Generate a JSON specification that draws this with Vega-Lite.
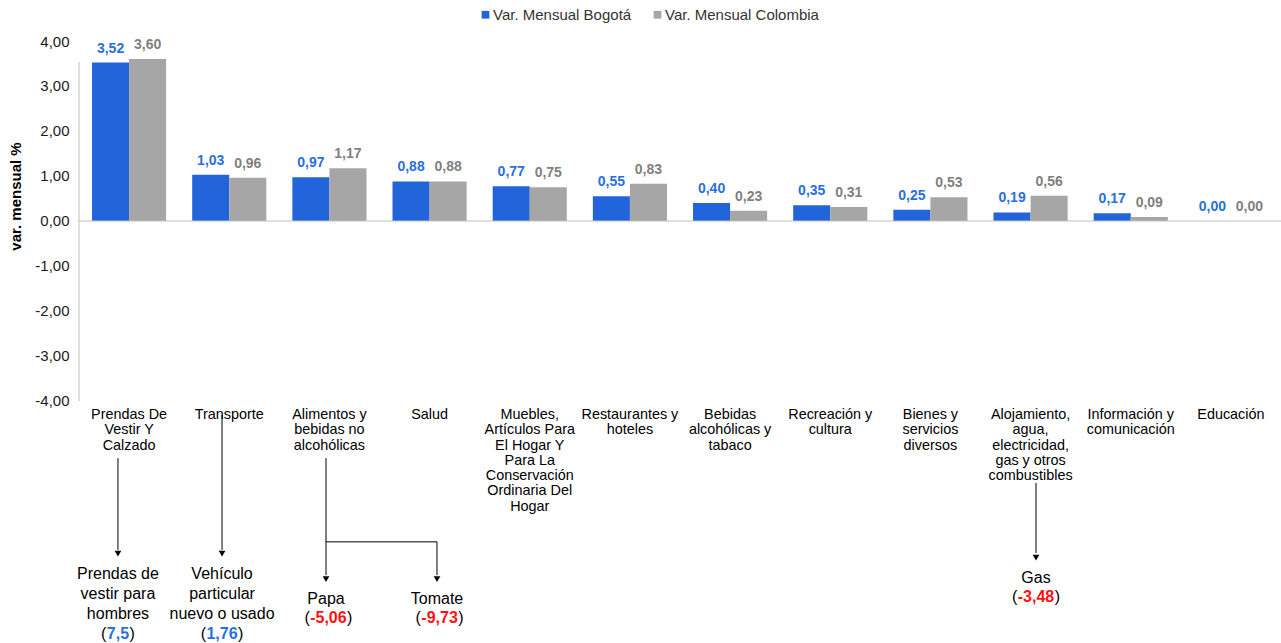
{
 "$schema": "https://vega.github.io/schema/vega-lite/v6.json",
 "width": 1202,
 "height": 602,
 "autosize": {"type": "none"},
 "padding": {"left": 79, "top": 41, "right": 0, "bottom": 0},
 "background": "white",
 "config": {
  "view": {"stroke": null},
  "font": "Liberation Sans",
  "locale": {"number": {"decimal": ",", "thousands": ".", "grouping": [3], "currency": ["$", ""], "minus": "-"}},
  "axisX": {"disable": true}
 },
 "datasets": {
  "bars": [
   {"cat": "Prendas De\nVestir Y\nCalzado", "serie": "Var. Mensual Bogotá", "valor": 3.52},
   {"cat": "Prendas De\nVestir Y\nCalzado", "serie": "Var. Mensual Colombia", "valor": 3.60},
   {"cat": "Transporte", "serie": "Var. Mensual Bogotá", "valor": 1.03},
   {"cat": "Transporte", "serie": "Var. Mensual Colombia", "valor": 0.96},
   {"cat": "Alimentos y\nbebidas no\nalcohólicas", "serie": "Var. Mensual Bogotá", "valor": 0.97},
   {"cat": "Alimentos y\nbebidas no\nalcohólicas", "serie": "Var. Mensual Colombia", "valor": 1.17},
   {"cat": "Salud", "serie": "Var. Mensual Bogotá", "valor": 0.88},
   {"cat": "Salud", "serie": "Var. Mensual Colombia", "valor": 0.88},
   {"cat": "Muebles,\nArtículos Para\nEl Hogar Y\nPara La\nConservación\nOrdinaria Del\nHogar", "serie": "Var. Mensual Bogotá", "valor": 0.77},
   {"cat": "Muebles,\nArtículos Para\nEl Hogar Y\nPara La\nConservación\nOrdinaria Del\nHogar", "serie": "Var. Mensual Colombia", "valor": 0.75},
   {"cat": "Restaurantes y\nhoteles", "serie": "Var. Mensual Bogotá", "valor": 0.55},
   {"cat": "Restaurantes y\nhoteles", "serie": "Var. Mensual Colombia", "valor": 0.83},
   {"cat": "Bebidas\nalcohólicas y\ntabaco", "serie": "Var. Mensual Bogotá", "valor": 0.40},
   {"cat": "Bebidas\nalcohólicas y\ntabaco", "serie": "Var. Mensual Colombia", "valor": 0.23},
   {"cat": "Recreación y\ncultura", "serie": "Var. Mensual Bogotá", "valor": 0.35},
   {"cat": "Recreación y\ncultura", "serie": "Var. Mensual Colombia", "valor": 0.31},
   {"cat": "Bienes y\nservicios\ndiversos", "serie": "Var. Mensual Bogotá", "valor": 0.25},
   {"cat": "Bienes y\nservicios\ndiversos", "serie": "Var. Mensual Colombia", "valor": 0.53},
   {"cat": "Alojamiento,\nagua,\nelectricidad,\ngas y otros\ncombustibles", "serie": "Var. Mensual Bogotá", "valor": 0.19},
   {"cat": "Alojamiento,\nagua,\nelectricidad,\ngas y otros\ncombustibles", "serie": "Var. Mensual Colombia", "valor": 0.56},
   {"cat": "Información y\ncomunicación", "serie": "Var. Mensual Bogotá", "valor": 0.17},
   {"cat": "Información y\ncomunicación", "serie": "Var. Mensual Colombia", "valor": 0.09},
   {"cat": "Educación", "serie": "Var. Mensual Bogotá", "valor": 0.00},
   {"cat": "Educación", "serie": "Var. Mensual Colombia", "valor": 0.00}
  ]
 },
 "layer": [
  {
   "data": {"name": "bars"},
   "layer": [
    {
     "mark": {"type": "bar"},
     "encoding": {
      "x": {"field": "cat", "type": "nominal", "sort": null, "axis": null, "scale": {"paddingInner": 0.26, "paddingOuter": 0.13}},
      "xOffset": {"field": "serie", "type": "nominal"},
      "y": {"field": "valor", "type": "quantitative",
            "scale": {"domain": [-9.378, 4], "nice": false, "zero": false},
            "axis": {"values": [-4, -3, -2, -1, 0, 1, 2, 3, 4], "format": ".2f", "domain": false, "ticks": false, "grid": false,
                     "labelFontSize": 15, "labelColor": "#1a1a1a", "labelPadding": 10,
                     "title": "var. mensual  %", "titleFontSize": 15, "titleFontWeight": "bold", "titleColor": "#000",
                     "titleX": -64, "titleY": 155, "titleAngle": 270, "titleAlign": "center", "titleBaseline": "middle"}},
      "color": {"field": "serie", "type": "nominal", "scale": {"range": ["#2264D9", "#A6A6A6"]},
                "legend": {"title": null, "orient": "none", "legendX": 399, "legendY": -34, "direction": "horizontal",
                           "symbolType": "square", "symbolSize": 60, "symbolStrokeWidth": 0, "labelFontSize": 15,
                           "labelColor": "#333", "columnPadding": 18, "labelOffset": 0, "padding": 0}}
     }
    },
    {
     "mark": {"type": "text", "fontWeight": "bold", "fontSize": 14, "dy": -10, "baseline": "alphabetic"},
     "encoding": {
      "x": {"field": "cat", "type": "nominal", "sort": null, "axis": null},
      "xOffset": {"field": "serie", "type": "nominal"},
      "y": {"field": "valor", "type": "quantitative"},
      "text": {"field": "valor", "type": "quantitative", "format": ".2f"},
      "color": {"condition": {"test": "datum.serie === 'Var. Mensual Bogotá'", "value": "#2A6FE0"}, "value": "#7F7F7F"}
     }
    },
    {
     "transform": [{"filter": "datum.serie === 'Var. Mensual Bogotá'"}],
     "mark": {"type": "text", "fontSize": 14.4, "lineHeight": 15.3, "lineBreak": "\n", "baseline": "alphabetic", "align": "center", "color": "#000"},
     "encoding": {
      "x": {"field": "cat", "type": "nominal", "sort": null, "axis": null},
      "y": {"datum": -4.4},
      "text": {"field": "cat"}
     }
    }
   ]
  },
  {
   "layer": [
    {
     "data": {"values": [{}]},
     "mark": {"type": "rule", "color": "#BFBFBF", "strokeWidth": 1},
     "encoding": {"x": {"datum": 0, "type": "quantitative", "scale": {"domain": [0, 12], "nice": false, "zero": false}, "axis": null}, "y": {"datum": -4}, "y2": {"datum": 3.53}}
    },
    {
     "data": {"values": [{}]},
     "mark": {"type": "rule", "color": "#BFBFBF", "strokeWidth": 1},
     "encoding": {"y": {"datum": 0}}
    },
    {
     "data": {"values": [{"producto": "Prendas de\nvestir para\nhombres", "variacion": 7.5}]},
     "layer": [
      {"mark": {"type": "rule", "color": "#000"}, "encoding": {"x": {"datum": 0.389}, "y": {"datum": -5.27}, "y2": {"datum": -7.31}}},
      {"mark": {"type": "point", "shape": "triangle-down", "filled": true, "size": 45, "color": "#000", "opacity": 1}, "encoding": {"x": {"datum": 0.389}, "y": {"datum": -7.39}}},
      {"mark": {"type": "text", "fontSize": 16, "lineHeight": 20, "lineBreak": "\n", "baseline": "alphabetic", "align": "center", "color": "#000"}, "encoding": {"x": {"datum": 0.389}, "y": {"datum": -7.956}, "text": {"field": "producto"}}},
      {"mark": {"type": "text", "fontSize": 16, "fontWeight": "bold", "baseline": "alphabetic", "align": "center", "color": "#2A6FE0"}, "encoding": {"x": {"datum": 0.389}, "y": {"datum": -9.29}, "text": {"field": "variacion", "type": "quantitative", "format": ".1f"}}},
      {"mark": {"type": "text", "text": "(", "fontSize": 16, "baseline": "alphabetic", "align": "right", "dx": -11.6, "color": "#000"}, "encoding": {"x": {"datum": 0.389}, "y": {"datum": -9.29}}},
      {"mark": {"type": "text", "text": ")", "fontSize": 16, "baseline": "alphabetic", "align": "left", "dx": 11.6, "color": "#000"}, "encoding": {"x": {"datum": 0.389}, "y": {"datum": -9.29}}}
     ]
    },
    {
     "data": {"values": [{"producto": "Vehículo\nparticular\nnuevo o usado", "variacion": 1.76}]},
     "layer": [
      {"mark": {"type": "rule", "color": "#000"}, "encoding": {"x": {"datum": 1.428}, "y": {"datum": -4.31}, "y2": {"datum": -7.31}}},
      {"mark": {"type": "point", "shape": "triangle-down", "filled": true, "size": 45, "color": "#000", "opacity": 1}, "encoding": {"x": {"datum": 1.428}, "y": {"datum": -7.39}}},
      {"mark": {"type": "text", "fontSize": 16, "lineHeight": 20, "lineBreak": "\n", "baseline": "alphabetic", "align": "center", "color": "#000"}, "encoding": {"x": {"datum": 1.428}, "y": {"datum": -7.956}, "text": {"field": "producto"}}},
      {"mark": {"type": "text", "fontSize": 16, "fontWeight": "bold", "baseline": "alphabetic", "align": "center", "color": "#2A6FE0"}, "encoding": {"x": {"datum": 1.428}, "y": {"datum": -9.29}, "text": {"field": "variacion", "type": "quantitative", "format": ".2f"}}},
      {"mark": {"type": "text", "text": "(", "fontSize": 16, "baseline": "alphabetic", "align": "right", "dx": -16, "color": "#000"}, "encoding": {"x": {"datum": 1.428}, "y": {"datum": -9.29}}},
      {"mark": {"type": "text", "text": ")", "fontSize": 16, "baseline": "alphabetic", "align": "left", "dx": 16, "color": "#000"}, "encoding": {"x": {"datum": 1.428}, "y": {"datum": -9.29}}}
     ]
    },
    {
     "data": {"values": [{"producto": "Papa", "variacion": -5.06}]},
     "layer": [
      {"mark": {"type": "rule", "color": "#000"}, "encoding": {"x": {"datum": 2.466}, "y": {"datum": -5.27}, "y2": {"datum": -7.87}}},
      {"mark": {"type": "rule", "color": "#000"}, "encoding": {"x": {"datum": 2.466}, "x2": {"datum": 3.574}, "y": {"datum": -7.13}}},
      {"mark": {"type": "point", "shape": "triangle-down", "filled": true, "size": 45, "color": "#000", "opacity": 1}, "encoding": {"x": {"datum": 2.466}, "y": {"datum": -7.96}}},
      {"mark": {"type": "text", "fontSize": 16, "baseline": "alphabetic", "align": "center", "color": "#000"}, "encoding": {"x": {"datum": 2.466}, "y": {"datum": -8.51}, "text": {"field": "producto"}}},
      {"mark": {"type": "text", "fontSize": 16, "fontWeight": "bold", "baseline": "alphabetic", "align": "center", "color": "#FF1111"}, "encoding": {"x": {"datum": 2.49}, "y": {"datum": -8.93}, "text": {"field": "variacion", "type": "quantitative", "format": ".2f"}}},
      {"mark": {"type": "text", "text": "(", "fontSize": 16, "baseline": "alphabetic", "align": "right", "dx": -18.7, "color": "#000"}, "encoding": {"x": {"datum": 2.49}, "y": {"datum": -8.93}}},
      {"mark": {"type": "text", "text": ")", "fontSize": 16, "baseline": "alphabetic", "align": "left", "dx": 18.7, "color": "#000"}, "encoding": {"x": {"datum": 2.49}, "y": {"datum": -8.93}}}
     ]
    },
    {
     "data": {"values": [{"producto": "Tomate", "variacion": -9.73}]},
     "layer": [
      {"mark": {"type": "rule", "color": "#000"}, "encoding": {"x": {"datum": 3.574}, "y": {"datum": -7.13}, "y2": {"datum": -7.87}}},
      {"mark": {"type": "point", "shape": "triangle-down", "filled": true, "size": 45, "color": "#000", "opacity": 1}, "encoding": {"x": {"datum": 3.574}, "y": {"datum": -7.96}}},
      {"mark": {"type": "text", "fontSize": 16, "baseline": "alphabetic", "align": "center", "color": "#000"}, "encoding": {"x": {"datum": 3.574}, "y": {"datum": -8.51}, "text": {"field": "producto"}}},
      {"mark": {"type": "text", "fontSize": 16, "fontWeight": "bold", "baseline": "alphabetic", "align": "center", "color": "#FF1111"}, "encoding": {"x": {"datum": 3.60}, "y": {"datum": -8.93}, "text": {"field": "variacion", "type": "quantitative", "format": ".2f"}}},
      {"mark": {"type": "text", "text": "(", "fontSize": 16, "baseline": "alphabetic", "align": "right", "dx": -18.7, "color": "#000"}, "encoding": {"x": {"datum": 3.60}, "y": {"datum": -8.93}}},
      {"mark": {"type": "text", "text": ")", "fontSize": 16, "baseline": "alphabetic", "align": "left", "dx": 18.7, "color": "#000"}, "encoding": {"x": {"datum": 3.60}, "y": {"datum": -8.93}}}
     ]
    },
    {
     "data": {"values": [{"producto": "Gas", "variacion": -3.48}]},
     "layer": [
      {"mark": {"type": "rule", "color": "#000"}, "encoding": {"x": {"datum": 9.554}, "y": {"datum": -5.82}, "y2": {"datum": -7.38}}},
      {"mark": {"type": "point", "shape": "triangle-down", "filled": true, "size": 45, "color": "#000", "opacity": 1}, "encoding": {"x": {"datum": 9.554}, "y": {"datum": -7.48}}},
      {"mark": {"type": "text", "fontSize": 16, "baseline": "alphabetic", "align": "center", "color": "#000"}, "encoding": {"x": {"datum": 9.554}, "y": {"datum": -8.04}, "text": {"field": "producto"}}},
      {"mark": {"type": "text", "fontSize": 16, "fontWeight": "bold", "baseline": "alphabetic", "align": "center", "color": "#FF1111"}, "encoding": {"x": {"datum": 9.554}, "y": {"datum": -8.47}, "text": {"field": "variacion", "type": "quantitative", "format": ".2f"}}},
      {"mark": {"type": "text", "text": "(", "fontSize": 16, "baseline": "alphabetic", "align": "right", "dx": -18.7, "color": "#000"}, "encoding": {"x": {"datum": 9.554}, "y": {"datum": -8.47}}},
      {"mark": {"type": "text", "text": ")", "fontSize": 16, "baseline": "alphabetic", "align": "left", "dx": 18.7, "color": "#000"}, "encoding": {"x": {"datum": 9.554}, "y": {"datum": -8.47}}}
     ]
    }
   ]
  }
 ],
 "resolve": {"scale": {"x": "independent"}}
}
